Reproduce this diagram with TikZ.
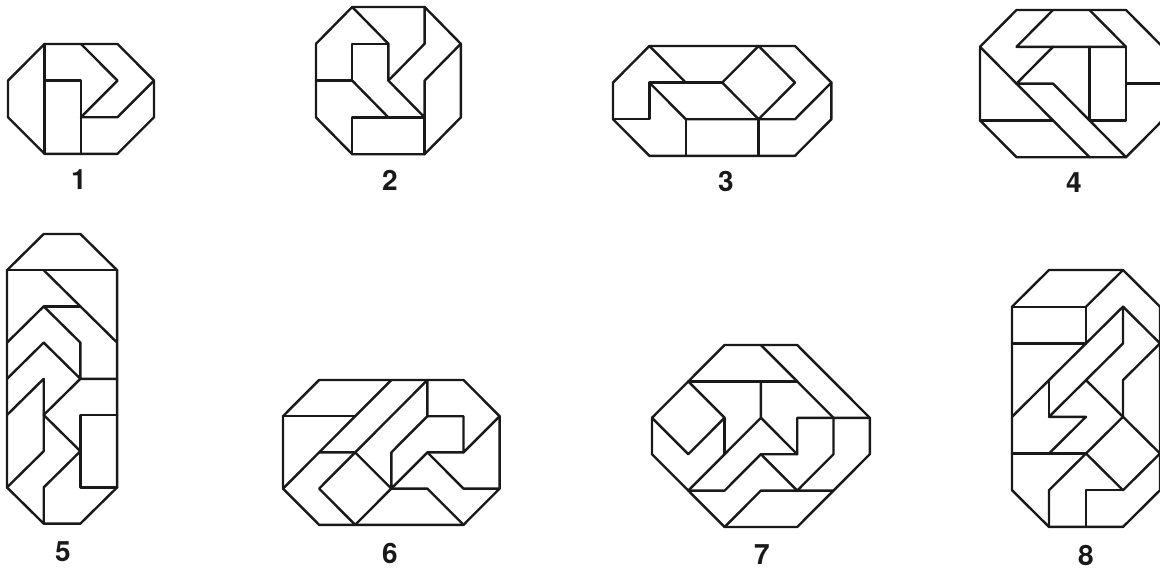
\documentclass[tikz,border=0pt]{standalone}
\usepackage{fontspec}
\setmainfont{TeX Gyre Heros}
\usepackage{tikz}
\begin{document}
\begin{tikzpicture}[
    x=1pt, y=-1pt,
    outline/.style={draw=black!90, line width=2.4pt, line join=round, line cap=round},
    numlabel/.style={font=\fontsize{28}{28}\selectfont\bfseries, text=black!90, inner sep=0pt},
]
\useasboundingbox (0,0) rectangle (1160,573);

\begin{scope}[shift={(8,44)}, x=36.5pt, y=-36.6pt, outline]
\draw (1,0) -- (3,0) -- (4,1) -- (4,2) -- (3,3) -- (1,3) -- (0,2) -- (0,1) -- cycle;
\draw (1,0) -- (1,3);
\draw (1,1) -- (2,1) -- (2,3);
\draw (2,0) -- (3,1) -- (2,2) -- (3,2) -- (4,1);
\end{scope}

\begin{scope}[shift={(316,7)}, x=36.2pt, y=-36.8pt, outline]
\draw (1,0) -- (3,0) -- (4,1) -- (4,3) -- (3,4) -- (1,4) -- (0,3) -- (0,1) -- cycle;
\draw (1,0) -- (2,1) -- (2,2) -- (3,1) -- (3,0);
\draw (2,1) -- (1,1) -- (1,2) -- (0,2);
\draw (1,2) -- (2,3);
\draw (2,2) -- (3,3) -- (3,2) -- (4,1);
\draw (1,4) -- (1,3) -- (3,3) -- (3,4);
\end{scope}

\begin{scope}[shift={(613,46)}, x=36.4pt, y=-36.6pt, outline]
\draw (1,0) -- (5,0) -- (6,1) -- (6,2) -- (5,3) -- (1,3) -- (0,2) -- (0,1) -- cycle;
\draw (1,0) -- (2,1);
\draw (0,2) -- (1,2) -- (1,1) -- (3,1);
\draw (1,1) -- (2,2) -- (5,2) -- (6,1);
\draw (2,2) -- (2,3);
\draw (4,2) -- (4,3);
\draw (4,0) -- (3,1) -- (4,2) -- (5,1) -- cycle;
\end{scope}

\begin{scope}[shift={(980,10)}, x=36.5pt, y=-36.8pt, outline]
\draw (1,0) -- (4,0) -- (5,1) -- (5,3) -- (4,4) -- (1,4) -- (0,3) -- (0,1) -- cycle;
\draw (2,0) -- (1,1) -- (4,1) -- (3,0);
\draw (2,1) -- (1,2) -- (2,2) -- (4,4);
\draw (0,1) -- (3,4);
\draw (3,1) -- (3,3) -- (4,3) -- (4,1);
\draw (4,2) -- (5,2);
\draw (0,3) -- (2,3);
\end{scope}

\begin{scope}[shift={(7,234)}, x=36.7pt, y=-36.2pt, outline]
\draw (1,0) -- (2,0) -- (3,1) -- (3,7) -- (2,8) -- (1,8) -- (0,7) -- (0,1) -- cycle;
\draw (0,1) -- (3,1);
\draw (1,1) -- (3,3);
\draw (1,2) -- (2,2);
\draw (0,3) -- (1,2) -- (2,3) -- (2,4) -- (3,4);
\draw (0,4) -- (1,3) -- (2,4) -- (1,5) -- (2,6) -- (1,7) -- (1,8);
\draw (3,5) -- (2,5) -- (2,7) -- (3,7);
\draw (0,5) -- (1,4) -- (1,6) -- (0,7);
\end{scope}

\begin{scope}[shift={(283,380)}, x=36.1pt, y=-36.2pt, outline]
\draw (1,0) -- (5,0) -- (6,1) -- (6,3) -- (5,4) -- (1,4) -- (0,3) -- (0,1) -- cycle;
\draw (0,1) -- (2,1);
\draw (0,3) -- (3,0);
\draw (1,2) -- (2,2) -- (4,0) -- (4,1) -- (5,1) -- (5,2) -- (6,1);
\draw (4,1) -- (3,2) -- (3,3) -- (4,2) -- (5,2);
\draw (4,2) -- (5,3) -- (6,3);
\draw (3,3) -- (4,3) -- (5,4);
\draw (2,2) -- (1,3) -- (2,4) -- (3,3) -- cycle;
\end{scope}

\begin{scope}[shift={(652,345)}, x=36.3pt, y=-36.4pt, outline]
\draw (2,0) -- (4,0) -- (6,2) -- (6,3) -- (4,5) -- (2,5) -- (0,3) -- (0,2) -- cycle;
\draw (3,0) -- (5,2);
\draw (1,1) -- (4,1);
\draw (1,1) -- (2,2) -- (1,3) -- (0,2);
\draw (2,2) -- (2,3);
\draw (1,4) -- (3,2) -- (3,1);
\draw (3,2) -- (4,3) -- (4,2) -- (6,2);
\draw (4,3) -- (3,3) -- (2,4) -- (1,4);
\draw (3,3) -- (4,4) -- (5,3) -- (5,2);
\draw (2,5) -- (3,4) -- (5,4);
\end{scope}

\begin{scope}[shift={(1012,270)}, x=37pt, y=-36.7pt, outline]
\draw (1,0) -- (3,0) -- (4,1) -- (4,6) -- (3,7) -- (1,7) -- (0,6) -- (0,1) -- cycle;
\draw (0,1) -- (2,1) -- (2,2) -- (0,2);
\draw (2,1) -- (3,0);
\draw (0,4) -- (3,1) -- (3,2) -- (1,4) -- (2,4) -- (1,5);
\draw (1,3) -- (1,4);
\draw (3,1) -- (4,2) -- (3,3) -- (3,4);
\draw (2,3) -- (3,4);
\draw (0,5) -- (2,5);
\draw (3,4) -- (2,5) -- (3,6) -- (4,5) -- cycle;
\draw (2,5) -- (1,6) -- (1,7);
\draw (3,6) -- (2,6) -- (2,7);
\end{scope}

\node[numlabel] (num1) at (79,180) {1};
\node[numlabel] (num2) at (390,180) {2};
\node[numlabel] (num3) at (726,181) {3};
\node[numlabel] (num4) at (1074,183) {4};
\node[numlabel] (num5) at (63,552) {5};
\node[numlabel] (num6) at (390,553) {6};
\node[numlabel] (num7) at (762,555) {7};
\node[numlabel] (num8) at (1086,555) {8};
\end{tikzpicture}
\end{document}
